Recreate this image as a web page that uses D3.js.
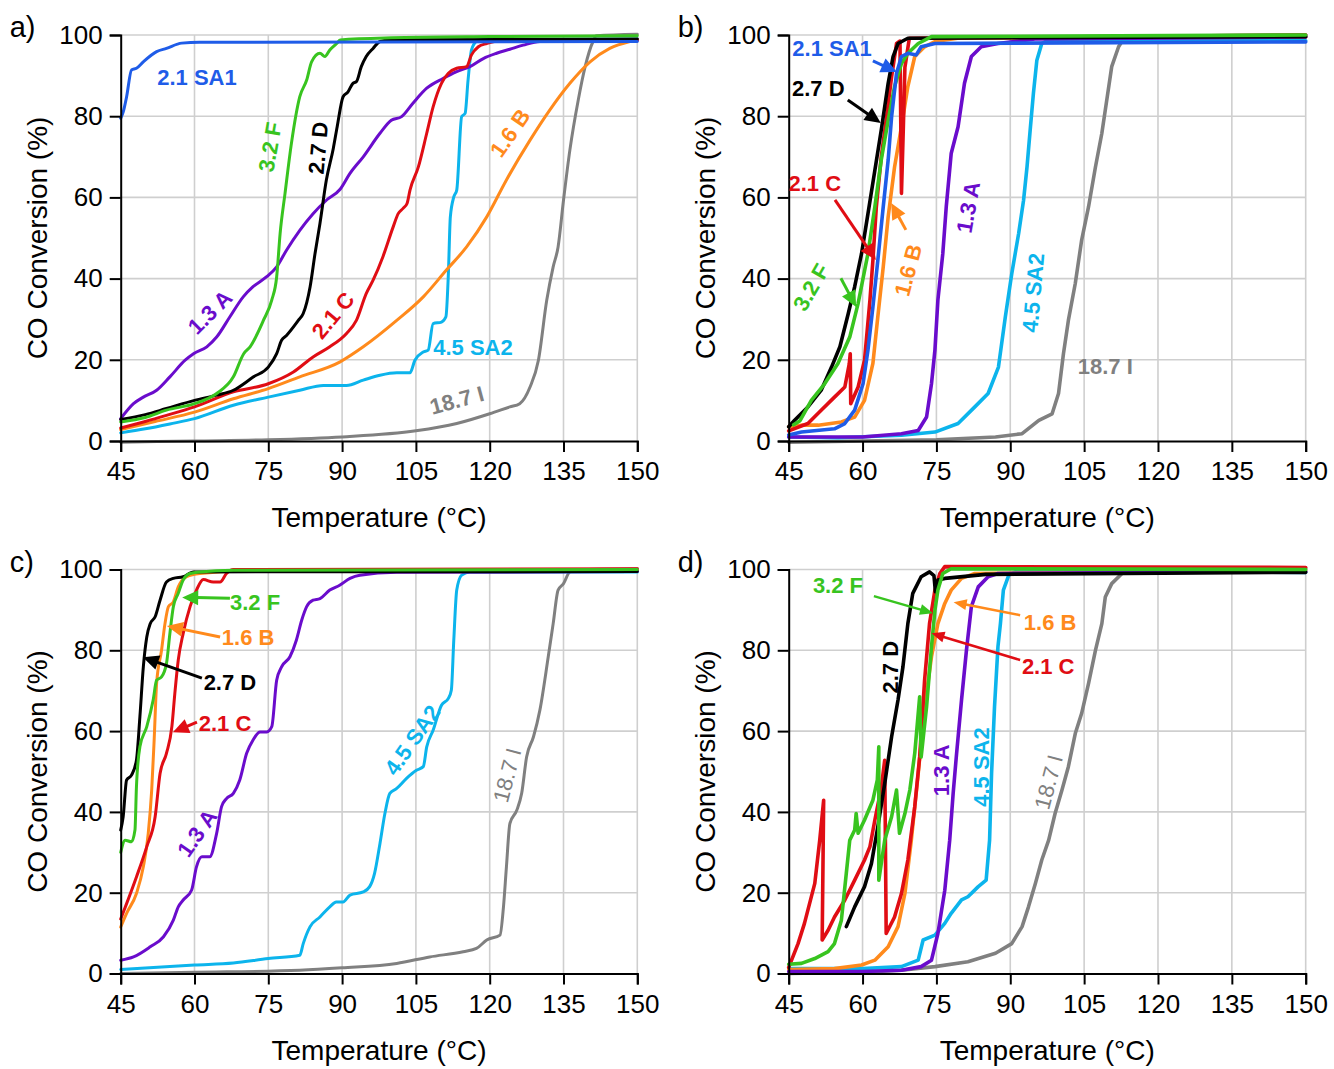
<!DOCTYPE html>
<html><head><meta charset="utf-8">
<script src="https://cdn.jsdelivr.net/npm/d3@7"></script>
<style>body{margin:0;background:#fff}svg text{font-family:Arial,"Liberation Sans",sans-serif}</style>
</head><body><svg id="chart" width="1334" height="1069"></svg>
<script>
// ---------- categories / ticks ----------
const seriesNames = ["18.7 I","4.5 SA2","1.6 B","1.3 A","2.1 C","2.7 D","3.2 F","2.1 SA1"];
const seriesColors = ["#808080","#0cb4ec","#ff8a1c","#6a0ccc","#e00d14","#000000","#38c41f","#1f5ce8"];
const xTicks = [45,60,75,90,105,120,135,150];
const yTicks = [0,20,40,60,80,100];
const xTitle = "Temperature (°C)";
const yTitle = "CO Conversion (%)";

// ---------- panel a ----------
const a_I   = [[45,-0.3],[60,0],[75,0.3],[90,1],[105,2.5],[113.3,4.3],[120,6.7],[124.1,8.4],[126.1,9.2],[128.2,13.3],[129.9,19.9],[131.6,34.7],[132.9,42.9],[133.9,47.8],[135,59.3],[136.3,71.7],[138,84],[139.4,92.2],[141,98.4],[141.7,99.8],[150,100.2]];
const a_SA2 = [[45,2],[50,3],[55,4.2],[60,5.5],[67.9,8.8],[75,10.8],[81.4,12.5],[86.2,13.7],[90.9,13.7],[94.3,15],[97.7,16.2],[101.1,16.8],[103.8,16.8],[104.8,19.9],[106.5,21.9],[107.5,22.4],[108.5,28.9],[110.2,29.3],[111.1,30.6],[111.6,41.2],[112,55.2],[112.7,60.1],[113.3,61.8],[114.3,79.9],[115,80.7],[115.6,88.9],[116.3,96.3],[117.3,98.4],[118.7,98.9],[150,99]];
const a_B   = [[45,2.8],[52,4.8],[60,7.1],[67.9,10.4],[75,12.9],[81.4,15.8],[89.6,19.5],[94.3,23.2],[101.1,29.7],[106.5,35.5],[111.2,42.1],[115.3,47.8],[119.4,55.2],[123.4,64.3],[128.2,74.1],[132.2,81.5],[136.3,88.1],[140.4,93.4],[144.4,96.7],[148.5,98.4],[150,98.8]];
const a_A   = [[45,5.5],[47.6,9.2],[49.6,10.8],[52.3,12.5],[55,15.8],[58.1,19.9],[59.8,21.5],[62.5,23.2],[64.5,25.6],[67.2,30.6],[69.9,35.5],[71.9,38],[74.6,40.4],[76.7,42.9],[78.7,47],[81.4,51.9],[84.1,56],[86.8,59.3],[89.6,62],[91.6,65.9],[94.3,70],[97.7,75.8],[100,79],[102.1,79.9],[104.4,83.2],[107.2,86.9],[110.5,89.3],[113.3,91],[116,92.2],[118.7,94.2],[121.4,95.5],[124.1,96.5],[126.8,97.5],[130.2,98.4],[150,98.6]];
const a_C   = [[45,3.2],[50,4.8],[54.3,6.3],[60,8.4],[67.9,12.1],[75,14.1],[80.1,17],[84.1,20.7],[87.5,23.2],[90.9,26.5],[92.9,29.7],[94.9,36.3],[96.3,39.6],[98.3,45.4],[100.4,52.8],[101.4,56],[102.4,57.3],[103.2,58.5],[103.8,61.8],[105.5,67.5],[107.2,75.8],[108.5,82.3],[110.2,88.1],[111.6,90.6],[113.3,91.8],[115.3,92.2],[116.3,95.1],[117.7,97.1],[119.4,97.9],[122,98.6],[150,98.8]];
const a_D   = [[45,5.3],[50,6.5],[54.3,8],[60,10],[64.5,11.3],[67.9,12.5],[72,15.8],[75,18.2],[76.7,21.5],[77.7,24.8],[78.7,26],[81.1,29.7],[82.1,31.4],[83.5,38],[84.5,46.2],[85.5,53.6],[86.8,64.3],[88.2,72],[89,77.4],[90.2,84.8],[91.2,86],[92.2,88.1],[92.9,88.5],[93.9,92.2],[94.9,94.7],[96.3,96.7],[97.7,98.4],[100,98.8],[150,99]];
const a_F   = [[45,4.7],[50,5.8],[54.3,7.6],[60,9.2],[64.5,11.7],[67.9,15.8],[70,21.5],[71.3,23.2],[74,29.7],[75.7,34.7],[76.7,40.4],[77.4,51.1],[78.4,61],[79.7,73.3],[81.4,84.8],[82.8,88.9],[83.8,93.4],[85.5,95.5],[86.5,94.7],[87.5,96.3],[88.9,97.9],[89.6,98.8],[100,99.3],[120,99.6],[150,99.8]];
const a_SA1 = [[45,79.5],[45.5,81],[46.2,84.8],[47.2,91.4],[48.2,91.8],[49.6,93.4],[52.3,95.9],[54.3,96.7],[57.4,98],[61,98.2],[150,98.4]];

// ---------- panel b ----------
const b_I   = [[45,-0.3],[60,0],[75,0.3],[87,1],[92.4,1.8],[95.8,5.1],[98.5,6.7],[99.8,11.7],[100.8,21.5],[101.8,29.7],[103.2,38.8],[104.5,49.5],[105.9,57.7],[107.3,67.5],[108.6,75.8],[109.6,84],[110.6,92.2],[112,97.1],[113.3,99.6],[150,100]];
const b_SA2 = [[45,1],[55,0.8],[67.9,1.4],[74.7,2.2],[79.4,4.3],[82.8,8.4],[85.5,11.7],[87.6,18.2],[89,30.6],[90.3,41.2],[91.7,51.1],[92.7,59.3],[93.4,67.5],[94.1,77.4],[94.7,85.6],[95.4,93.8],[96.4,97.9],[97.8,98.8],[150,98.6]];
const b_B   = [[45,3.5],[47.6,3.9],[51,3.9],[55.7,4.7],[58.4,5.9],[60.4,10],[62.1,19.1],[63.1,30.6],[64.2,42.9],[65.2,55.2],[66.5,67.5],[67.9,77.4],[69.2,87.3],[70.6,94.7],[72.6,97.1],[74.7,98.4],[80,99.3],[150,99.5]];
const b_A   = [[45,1],[60,1],[67.9,1.8],[71.3,2.6],[73,5.9],[74,14.1],[74.7,22.4],[75.3,34.7],[76.3,46.2],[77,57.7],[78,70.8],[79.4,77.4],[80.7,88.1],[82.1,94.7],[84.1,97.1],[87.5,97.9],[95,99],[150,99.5]];
const b_C   = [[45,2.5],[48.9,4.3],[51.6,7.6],[54.3,10.8],[56.4,13.3],[57.3,19],[57.5,21.5],[57.6,9.2],[59.1,13.3],[60.4,19.9],[61.5,34.7],[62.1,44.5],[62.8,57.7],[63.8,70],[64.8,79],[65.9,89.7],[66.9,97.9],[67.6,98.5],[67.9,61],[68.3,78],[68.6,92],[69.5,99.2],[150,100]];
const b_D   = [[45,3.5],[46.2,5.1],[48.9,8.4],[51.6,12.5],[53.7,18.2],[55.4,23.2],[57.1,31.4],[58.4,38],[59.8,46.2],[61.1,56],[62.5,66.7],[63.8,76.6],[65.2,88.1],[66.2,94.7],[67.2,97.9],[69.2,99.2],[150,99.6]];
const b_F   = [[46,4],[47.3,5],[49.6,10],[52.3,14.1],[55,19.1],[57.4,25.6],[59.1,33.9],[61.1,46.2],[62.5,57.7],[63.8,69.2],[65.2,79],[66.5,87.3],[67.9,93],[69.2,95.5],[71.3,97.9],[74,99.6],[150,100]];
const b_SA1 = [[45,1.5],[47.6,2.2],[54.3,3],[56.4,4.3],[58.4,7.6],[60.1,14.1],[61.1,22.4],[62.1,33],[63.1,44.5],[64.2,57.7],[65.2,69.2],[65.9,79.9],[66.9,90.6],[67.9,94.7],[69.2,95.5],[70.9,95.1],[71.9,97.1],[74.7,97.9],[150,98.3]];

// ---------- panel c ----------
const c_I   = [[45,0],[60,0.3],[81.4,0.8],[90,1.4],[101.1,2.5],[107.8,4.1],[114.6,5.4],[117.3,6.2],[119.4,8.3],[122.1,9.5],[122.8,16.5],[123.4,26.4],[124.1,37.1],[125.5,40.4],[126.5,44.6],[127.5,53.6],[128.9,58.6],[130.2,65.2],[131.9,78.4],[132.9,86.6],[133.9,94.9],[135,96.5],[136.3,99.4],[139,100],[150,100.2]];
const c_SA2 = [[45,1],[60,2.1],[67.9,2.6],[75,3.7],[81.4,4.5],[82.1,7.4],[83.5,11.6],[85.5,14],[87.5,16.5],[88.8,17.7],[90.2,17.7],[91.6,19.4],[94.3,20.2],[95.6,21.5],[96.6,24.8],[97.7,32.2],[98.7,39.6],[99.7,44.6],[101.1,45.8],[103.1,48.3],[105.1,50.3],[106.5,51.2],[107.2,56.1],[108.5,60.2],[110.2,66.4],[111.6,68.1],[112.2,70.1],[112.7,82.5],[113.3,94.9],[114.3,98.6],[116,99.4],[150,99.4]];
const c_B   = [[45,11.5],[46.2,14.9],[48.2,19.8],[49.6,26.4],[50.6,34.7],[51.3,45.4],[51.8,57.8],[52.3,71.8],[53.3,80],[54,86.6],[54.7,90.8],[55.7,92],[56.7,95.7],[58.4,98.2],[61.1,99],[70,99.6],[150,99.8]];
const c_A   = [[45,3.3],[47.6,4.1],[51,6.6],[53.7,9.1],[55.7,13.2],[56.7,16.5],[57.7,18.2],[59.4,20.6],[60.4,26.4],[61.5,28.9],[63.1,28.9],[64.5,34.7],[65.5,41.3],[66.5,43.3],[67.9,44.6],[69.2,47.9],[70.6,54.5],[71.9,57.8],[73.3,59.8],[74.7,59.8],[75.7,61.1],[76.7,72.6],[77.7,75.9],[79.4,78.4],[80.7,82.5],[81.8,87.5],[82.8,90.8],[84.1,92.4],[85.5,92.8],[87.5,94.9],[89.5,96.1],[91.6,97.8],[93.6,98.6],[101.1,99.3],[150,99.5]];
const c_C   = [[45,13.5],[46.2,17.3],[48.2,23.9],[50.3,31.4],[52,38.8],[53,49.5],[54.3,54.5],[55.4,61.1],[56,69.3],[56.7,77.6],[57.7,84.2],[59.1,90.8],[60.4,94.9],[61.8,97.5],[63.8,96.9],[65.2,96.9],[66.5,99],[67.9,100],[150,100.2]];
const c_D   = [[45,35.5],[45.5,38.8],[46.2,47.9],[47.2,49.1],[48.2,52.8],[48.9,63.5],[49.6,75.9],[50.3,83.3],[51,86.6],[52,88.3],[53,92.4],[54.3,96.9],[55.7,97.8],[57.7,98.2],[59.8,99.4],[150,99.5]];
const c_F   = [[45,30],[45.9,33],[47.2,32.6],[47.9,35.5],[48.2,46.2],[48.9,56.1],[50.3,61.1],[51.6,67.7],[52.3,72.6],[53.3,73.4],[54.3,76.7],[55,84.2],[55.7,90.8],[56.7,94.1],[57.7,97.4],[59.1,99],[61.1,99.4],[67.9,99.8],[150,100]];

// ---------- panel d ----------
const d_I   = [[45,0],[60,0.3],[67.9,0.8],[74.7,1.7],[81.4,2.9],[87,5],[90.3,7.4],[92.4,11.6],[93.7,16.5],[95.1,22.3],[96.4,28.1],[97.8,33],[99.1,39.6],[100.5,45.4],[101.8,51.2],[103.2,59.4],[104.5,64.4],[105.9,71.8],[107.3,80],[108.6,86.6],[109.3,93.2],[110.6,96.5],[112.7,99],[115.4,100.2],[150,100.3]];
const d_SA2 = [[45,1.2],[60,1.2],[67.9,1.7],[71.3,3.3],[72.3,8.3],[74.7,9.5],[76.7,12.4],[78,14.9],[80.1,18.2],[81.4,19],[83.5,21.5],[85.1,23.1],[85.8,33],[86.2,49.5],[86.8,66],[87.5,80.9],[88,86.6],[88.6,94.9],[89.7,98.6],[91,99.4],[150,99.3]];
const d_B   = [[45,1],[54.3,1.2],[59.8,2.1],[62.5,3.3],[65.2,6.6],[67.2,11.6],[68.6,19.8],[69.9,33],[71.3,49.5],[72.6,66],[74,78.4],[75.3,86.6],[76.7,91.6],[78,94.9],[80.1,97.8],[82.8,99],[150,99.8]];
const d_A   = [[45,0.5],[60,0.5],[67.9,0.8],[71.9,1.7],[74,3.3],[75.3,9.9],[76.7,20.6],[77.7,33],[78.4,44.6],[79.1,54.5],[80.1,67.7],[81.1,80],[82.1,90.8],[83.5,95.7],[85.5,98.2],[87.5,99],[150,99.5]];
const d_C   = [[45,1.5],[46.9,7.4],[48.2,12.4],[50.3,22.3],[51.3,33],[52.1,42.9],[51.8,8.3],[53,10.7],[54.3,14],[56.4,18.2],[58.4,23.1],[60.4,28.1],[61.5,31.4],[62.5,38],[63.8,46],[64.5,52.8],[64.8,9.9],[66.5,14],[67.9,19.8],[69.2,28.1],[70.6,41.3],[71.6,53.6],[72.6,72.6],[73.6,86.6],[74.7,94.9],[75.7,99],[76.7,100.7],[150,100.5]];
const d_D   = [[56.7,11.6],[58.4,16.5],[60.4,21.5],[61.8,27.2],[63.1,36.3],[64.5,47],[65.9,58.6],[67.2,67.7],[68.2,75.9],[69.2,86.6],[70.2,94.1],[71.9,98.2],[73.6,99.4],[74.5,98.5],[74.8,94.5],[75.3,97.4],[76.7,97.8],[85,98.8],[150,99.3]];
const d_F   = [[45,2.3],[47.6,2.5],[50.3,3.7],[53,5.4],[54.3,7.4],[55.7,13.2],[56.7,24.8],[57.4,33],[58.4,35.5],[58.7,39.6],[59.1,34.7],[60.4,38],[62.1,42.9],[63,47.9],[63.3,56.1],[63.3,23.1],[64.5,33],[65.9,38.8],[66.9,45.4],[67.5,34.7],[68.6,39.6],[69.6,45.4],[70.6,54.5],[71.6,68.5],[71.9,53.6],[73,66],[74,80.9],[74.7,89.9],[75.3,94.9],[76.3,99],[78,100.2],[150,100]];

// ---------- annotations (data units) ----------
const a_labels = [
  {t:"2.1 SA1",x:60.5,y:89.7,r:0},{t:"3.2 F",x:75.3,y:72.4,r:-80},{t:"2.7 D",x:85.1,y:72.2,r:-85},
  {t:"1.3 A",x:63.1,y:31.8,r:-45},{t:"2.1 C",x:88.1,y:31,r:-50},{t:"1.6 B",x:124.1,y:75.9,r:-55},
  {t:"4.5 SA2",x:116.6,y:23.2,r:0},{t:"18.7 I",x:113.3,y:10.1,r:-15}];
const b_labels = [
  {t:"2.1 SA1",x:53.8,y:96.8,r:0},{t:"2.7 D",x:51,y:86.9,r:0},{t:"2.1 C",x:50.3,y:63.5,r:0},
  {t:"3.2 F",x:49.5,y:37.9,r:-60},{t:"1.6 B",x:69.2,y:42.1,r:-75},{t:"1.3 A",x:81.4,y:57.6,r:-80},
  {t:"4.5 SA2",x:94.6,y:36.5,r:-85},{t:"18.7 I",x:109.3,y:18.5,r:0}];
const b_arrows = [
  {s:"2.1 SA1",x1:62.1,y1:93.6,x2:67,y2:90.9},{s:"2.7 D",x1:57,y1:84,x2:63.7,y2:78.3},
  {s:"2.1 C",x1:54.4,y1:59.4,x2:62.7,y2:44.6},{s:"3.2 F",x1:55.6,y1:40.1,x2:58.7,y2:33},
  {s:"1.6 B",x1:68.8,y1:52,x2:65.8,y2:58.6}];
const c_labels = [
  {t:"3.2 F",x:72.3,y:91.9,r:0},{t:"1.6 B",x:70.9,y:83.3,r:0},{t:"2.7 D",x:67.2,y:72.1,r:0},
  {t:"2.1 C",x:66.2,y:62,r:0},{t:"1.3 A",x:60.5,y:34.8,r:-55},{t:"4.5 SA2",x:104.2,y:57.8,r:-55},
  {t:"18.7 I",x:123.5,y:49.1,r:-75,w:"normal"}];
const c_arrows = [
  {s:"3.2 F",x1:67.2,y1:92.9,x2:57.5,y2:93.1},{s:"1.6 B",x1:65.2,y1:83.3,x2:54.4,y2:86},
  {s:"2.7 D",x1:61.5,y1:73.1,x2:49.5,y2:78.3},{s:"2.1 C",x1:60.5,y1:62.2,x2:55.6,y2:59.7}];
const d_labels = [
  {t:"3.2 F",x:55,y:96.1,r:0},{t:"1.6 B",x:98.1,y:87,r:0},{t:"2.1 C",x:97.7,y:76.1,r:0},
  {t:"2.7 D",x:65.6,y:75.8,r:-90},{t:"1.3 A",x:75.9,y:50.3,r:-90},{t:"4.5 SA2",x:84,y:51.1,r:-90},
  {t:"18.7 I",x:97.7,y:47.4,r:-75,w:"normal"}];
const d_arrows = [
  {s:"3.2 F",x1:62.3,y1:93.4,x2:74.3,y2:89.2},{s:"1.6 B",x1:92,y1:88.7,x2:78.5,y2:91.9},
  {s:"2.1 C",x1:92,y1:77.6,x2:74,y2:84.2}];

// ---------- layout ----------
const panels = [
  {tag:"a)", left:120.7, right:637.3, top:35, bottom:441, lw:3, smooth:true,
   series:[a_I,a_SA2,a_B,a_A,a_C,a_D,a_F,a_SA1], labels:a_labels, arrows:[]},
  {tag:"b)", left:788.7, right:1305.7, top:35, bottom:441, lw:3.6, smooth:false,
   series:[b_I,b_SA2,b_B,b_A,b_C,b_D,b_F,b_SA1], labels:b_labels, arrows:b_arrows, aw:3, hl:16, hw:15},
  {tag:"c)", left:120.7, right:637.3, top:569.5, bottom:973.5, lw:3, smooth:true,
   series:[c_I,c_SA2,c_B,c_A,c_C,c_D,c_F,null], labels:c_labels, arrows:c_arrows, aw:3, hl:16, hw:15},
  {tag:"d)", left:788.7, right:1305.7, top:569.5, bottom:973.5, lw:3.6, smooth:false,
   series:[d_I,d_SA2,d_B,d_A,d_C,d_D,d_F,null], labels:d_labels, arrows:d_arrows, aw:2.5, hl:13, hw:11}
];

const svg = d3.select("#chart");
const colorOf = d3.scaleOrdinal().domain(seriesNames).range(seriesColors);

function arrow(g,x1,y1,x2,y2,color,w,hl,hw){
  const dx=x2-x1, dy=y2-y1, L=Math.hypot(dx,dy), ux=dx/L, uy=dy/L;
  const bx=x2-ux*hl, by=y2-uy*hl;
  g.append("line").attr("x1",x1).attr("y1",y1).attr("x2",bx+ux*2).attr("y2",by+uy*2)
    .attr("stroke",color).attr("stroke-width",w);
  g.append("path").attr("d",`M${x2},${y2}L${bx-uy*hw/2},${by+ux*hw/2}L${bx+uy*hw/2},${by-ux*hw/2}Z`)
    .attr("fill",color);
}

panels.forEach(p=>{
  const x = d3.scaleLinear().domain([45,150]).range([p.left,p.right]);
  const y = d3.scaleLinear().domain([0,100]).range([p.bottom,p.top]);
  const g = svg.append("g");

  // grid
  g.append("g").selectAll("line").data(xTicks.slice(1)).join("line")
    .attr("x1",d=>x(d)).attr("x2",d=>x(d)).attr("y1",p.top).attr("y2",p.bottom)
    .attr("stroke","#cfcfcf").attr("stroke-width",1.6);
  g.append("g").selectAll("line").data(yTicks.slice(1)).join("line")
    .attr("x1",p.left).attr("x2",p.right).attr("y1",d=>y(d)).attr("y2",d=>y(d))
    .attr("stroke","#cfcfcf").attr("stroke-width",1.6);

  // series
  const line = d3.line().x(d=>x(d[0])).y(d=>y(d[1]))
    .curve(p.smooth ? d3.curveMonotoneX : d3.curveLinear);
  p.series.forEach((s,i)=>{
    if(!s) return;
    g.append("path").datum(s).attr("d",line).attr("fill","none")
      .attr("stroke",colorOf(seriesNames[i])).attr("stroke-width",p.lw)
      .attr("stroke-linejoin","round").attr("stroke-linecap","round");
  });

  // axes
  const xMinor = d3.range(45,150.1,3);
  const yMinor = d3.range(0,100.1,5);
  const xa = g.append("g").attr("transform",`translate(0,${p.bottom})`);
  xa.call(d3.axisBottom(x).tickValues(xMinor).tickSize(6).tickFormat(""));
  xa.call(d3.axisBottom(x).tickValues(xTicks).tickSize(11).tickPadding(10).tickFormat(d3.format("d")));
  const ya = g.append("g").attr("transform",`translate(${p.left},0)`);
  ya.call(d3.axisLeft(y).tickValues(yMinor).tickSize(6).tickFormat(""));
  ya.call(d3.axisLeft(y).tickValues(yTicks).tickSize(11).tickPadding(7).tickFormat(d3.format("d")));
  [xa,ya].forEach(a=>{
    a.selectAll("path.domain").attr("stroke","#000").attr("stroke-width",2);
    a.selectAll(".tick line").attr("stroke","#000").attr("stroke-width",2);
    a.selectAll(".tick text").attr("fill","#000").style("font-size","26px");
  });

  // titles
  g.append("text").attr("x",(p.left+p.right)/2).attr("y",p.bottom+86)
    .attr("text-anchor","middle").style("font-size","28px").text(xTitle);
  g.append("text").attr("transform",`translate(${p.left-74},${(p.top+p.bottom)/2}) rotate(-90)`)
    .attr("text-anchor","middle").style("font-size","28px").text(yTitle);
  g.append("text").attr("x",p.left-111).attr("y",p.top+2)
    .style("font-size","29px").text(p.tag);

  // arrows
  p.arrows.forEach(a=>{
    arrow(g,x(a.x1),y(a.y1),x(a.x2),y(a.y2),colorOf(a.s),p.aw,p.hl,p.hw);
  });
  // labels
  p.labels.forEach(l=>{
    g.append("text").attr("transform",`translate(${x(l.x)},${y(l.y)}) rotate(${l.r})`)
      .attr("text-anchor","middle").attr("dy","0.36em")
      .style("font-size","22px").style("font-weight",l.w||"bold")
      .attr("fill",colorOf(l.t)).text(l.t);
  });
});
</script></body></html>
